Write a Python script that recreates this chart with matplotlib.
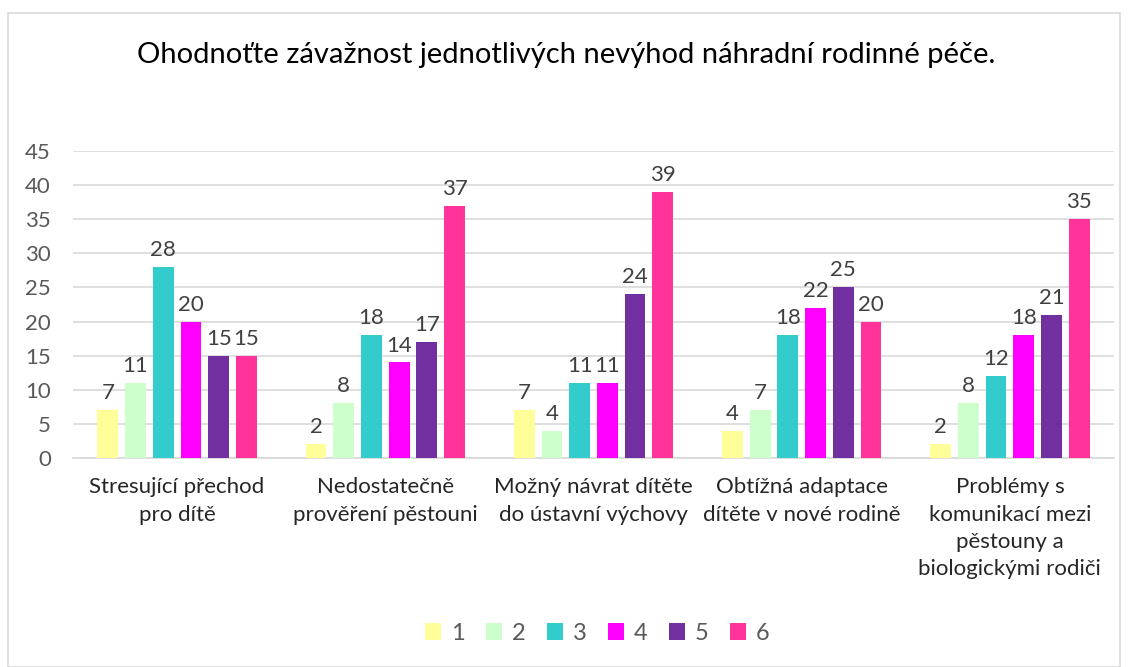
import matplotlib.pyplot as plt
import numpy as np
from matplotlib.patches import Rectangle

plt.rcParams['font.family'] = ['Lato', 'DejaVu Sans']

categories = ["Stresující přechod\npro dítě",
              "Nedostatečně\nprověření pěstouni",
              "Možný návrat dítěte\ndo ústavní výchovy",
              "Obtížná adaptace\ndítěte v nové rodině",
              "Problémy s\nkomunikací mezi\npěstouny a\nbiologickými rodiči"]
series_names = ["1", "2", "3", "4", "5", "6"]
s1 = [7, 2, 7, 4, 2]
s2 = [11, 8, 4, 7, 8]
s3 = [28, 18, 11, 18, 12]
s4 = [20, 14, 11, 22, 18]
s5 = [15, 17, 24, 25, 21]
s6 = [15, 37, 39, 20, 35]
series = [s1, s2, s3, s4, s5, s6]
colors = ["#FFFF99", "#CCFFCC", "#33CCCC", "#FF00FF", "#7030A0", "#FF3399"]
yticks = [0, 5, 10, 15, 20, 25, 30, 35, 40, 45]

fig = plt.figure(figsize=(11.32, 6.67), dpi=100)
fig.patches.append(Rectangle((8/1132, 0), 1112/1132, 1 - 13/667, transform=fig.transFigure,
                             fill=False, edgecolor="#D9D9D9", linewidth=1.2))
ax = fig.add_axes([73/1132, 1 - 458/667, (1114-73)/1132, 307/667])

x = np.arange(len(categories))
bw = 0.1
stride = 0.133
for i, (vals, c, name) in enumerate(zip(series, colors, series_names)):
    off = (i - 2.5) * stride
    bars = ax.bar(x + off, vals, width=bw, color=c, label=name, zorder=3)
    for b, v in zip(bars, vals):
        ax.annotate(str(v), (b.get_x() + b.get_width()/2, v), xytext=(0, 5),
                    textcoords="offset points", ha="center", va="bottom",
                    fontsize=16, color="#404040")

ax.set_xlim(-0.5, len(categories) - 0.5)
ax.set_ylim(0, 45)
ax.set_yticks(yticks)
ax.yaxis.grid(True, color="#D9D9D9", linewidth=1.2, zorder=0)
ax.set_axisbelow(True)
for s in ["top", "right", "left"]:
    ax.spines[s].set_visible(False)
ax.spines["bottom"].set_color("#D9D9D9")
ax.spines["bottom"].set_linewidth(1.2)
ax.tick_params(axis="y", length=0, labelsize=16, labelcolor="#595959", pad=16)
ax.tick_params(axis="x", length=0, labelsize=16, labelcolor="#262626", pad=14)
ax.set_xticks(x)
ax.set_xticklabels(categories, linespacing=1.45)

fig.text(0.5, 1 - 55/667, "Ohodnoťte závažnost jednotlivých nevýhod náhradní rodinné péče.",
         ha="center", va="center", fontsize=21, color="#000000")

fig.legend(loc="center", bbox_to_anchor=(597/1132, 1 - 633/667), ncol=6, frameon=False,
           fontsize=17, handlelength=0.7, handleheight=0.7, columnspacing=0.9,
           handletextpad=0.4, labelcolor="#595959")

fig.savefig("out.png", dpi=100)
